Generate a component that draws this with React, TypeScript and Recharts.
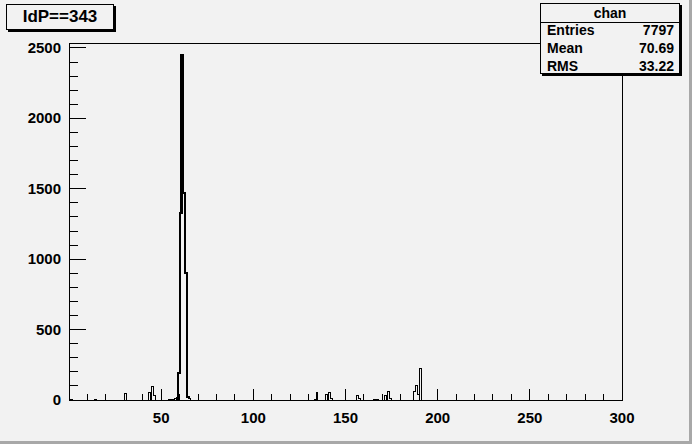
import { LineChart, Line, XAxis, YAxis, ReferenceArea } from "recharts";

// histogram "chan", unit-width bins on [0, 300); only the filled bins are listed
const binLow = [
  1, 14, 30, 43, 45, 46, 54, 55, 56, 57, 58, 59, 60, 61, 62, 63, 64, 65,
  133, 134, 139, 141, 142, 156, 157, 165, 166, 167, 171, 172, 173, 174,
  187, 188, 189, 190,
];
const binCount = [
  4, 5, 48, 55, 95, 35, 4, 5, 6, 8, 10, 190, 1330, 2450, 1470, 900, 20, 8,
  5, 55, 40, 55, 8, 35, 10, 5, 5, 5, 30, 5, 60, 8,
  62, 100, 40, 222,
];
// the dense peak, drawn heavier like the original
const peakRange = [58, 65];

const xTicks = [
  0, 10, 20, 30, 40, 50, 60, 70, 80, 90, 100, 110, 120, 130, 140, 150, 160,
  170, 180, 190, 200, 210, 220, 230, 240, 250, 260, 270, 280, 290, 300,
];
const yTicks = [
  0, 100, 200, 300, 400, 500, 600, 700, 800, 900, 1000, 1100, 1200, 1300,
  1400, 1500, 1600, 1700, 1800, 1900, 2000, 2100, 2200, 2300, 2400, 2500,
];
const yMax = 2535;

const stats = [
  { name: "Entries", value: "7797" },
  { name: "Mean", value: "70.69" },
  { name: "RMS", value: "33.22" },
];

const NBINS = 300;
const data: { x: number; v: number; peak?: number }[] = [];
for (let i = 0; i <= NBINS; i++) {
  const k = binLow.indexOf(i);
  const v = k >= 0 ? binCount[k] : 0;
  const inPeak = i >= peakRange[0] && i <= peakRange[1];
  data.push({ x: i, v, peak: inPeak ? v : undefined });
}

const font = "'Liberation Sans', Arial, Helvetica, sans-serif";
const bg = "#f2f2f2";

function XTick({ x, y, payload }: any) {
  const v = payload.value;
  const major = v % 50 === 0;
  return (
    <g>
      <line x1={x} x2={x} y1={y} y2={y - (major ? 11 : 6)} stroke="#000" />
      {major && v > 0 && (
        <text x={x} y={y + 23} textAnchor="middle" fontSize={15} fontWeight="bold" fontFamily={font} fill="#000">
          {v}
        </text>
      )}
    </g>
  );
}

function YTick({ x, y, payload }: any) {
  const v = payload.value;
  const major = v % 500 === 0;
  return (
    <g>
      <line x1={x} x2={x + (major ? 17 : 8.5)} y1={y} y2={y} stroke="#000" />
      {major && (
        <text x={x - 8} y={y + 5} textAnchor="end" fontSize={15} fontWeight="bold" fontFamily={font} fill="#000">
          {v}
        </text>
      )}
    </g>
  );
}

export default function App() {
  return (
    <div
      className="hist"
      style={{
        position: "absolute", left: 0, top: 0, width: 692, height: 444,
        background: bg, fontFamily: font, boxSizing: "border-box",
        borderRight: "3px solid #a8a8a8", borderBottom: "3px solid #a8a8a8",
      }}
    >
      <style>{`.hist svg line, .hist svg path, .hist svg rect { shape-rendering: crispEdges; }`}</style>
      <div style={{ position: "absolute", left: 0, top: 0 }}>
        <LineChart width={692} height={444} data={data} margin={{ top: 43, right: 70, bottom: 14, left: 9 }}>
          <XAxis
            dataKey="x" type="number" domain={[0, 300]} ticks={xTicks} interval={0}
            height={30} axisLine={false} tickLine={false} tickSize={0} tickMargin={0}
            tick={<XTick />}
          />
          <YAxis
            type="number" domain={[0, yMax]} ticks={yTicks} interval={0} allowDataOverflow
            width={60} axisLine={false} tickLine={false} tickSize={0} tickMargin={0}
            tick={<YTick />}
          />
          <ReferenceArea x1={0} x2={300} y1={0} y2={yMax} fill="none" stroke="#000" strokeWidth={1} fillOpacity={0} />
          <Line
            dataKey="v" type="stepAfter" stroke="#000" strokeWidth={1}
            dot={false} activeDot={false} isAnimationActive={false}
          />
          <Line
            dataKey="peak" type="stepAfter" stroke="#000" strokeWidth={2.2}
            dot={false} activeDot={false} isAnimationActive={false}
          />
        </LineChart>
      </div>

      {/* title box */}
      <div style={{
        position: "absolute", left: 6, top: 4, width: 106, height: 24,
        border: "1px solid #000", boxShadow: "2px 2px 0 #000", background: bg,
        fontSize: 17, fontWeight: "bold", textAlign: "center", lineHeight: "24px",
      }}>
        IdP==343
      </div>

      {/* stats box */}
      <div style={{
        position: "absolute", left: 540, top: 3, width: 138, height: 69, overflow: "hidden",
        border: "1px solid #000", boxShadow: "2px 2px 0 #000", background: bg,
        fontSize: 14, fontWeight: "bold",
      }}>
        <div style={{ height: 18, lineHeight: "18px", textAlign: "center", borderBottom: "1px solid #000" }}>chan</div>
        {stats.map((s) => (
          <div key={s.name} style={{ display: "flex", justifyContent: "space-between", height: 18, lineHeight: "15px", padding: "0 5px 0 6px" }}>
            <span>{s.name}</span>
            <span>{s.value}</span>
          </div>
        ))}
      </div>
    </div>
  );
}
